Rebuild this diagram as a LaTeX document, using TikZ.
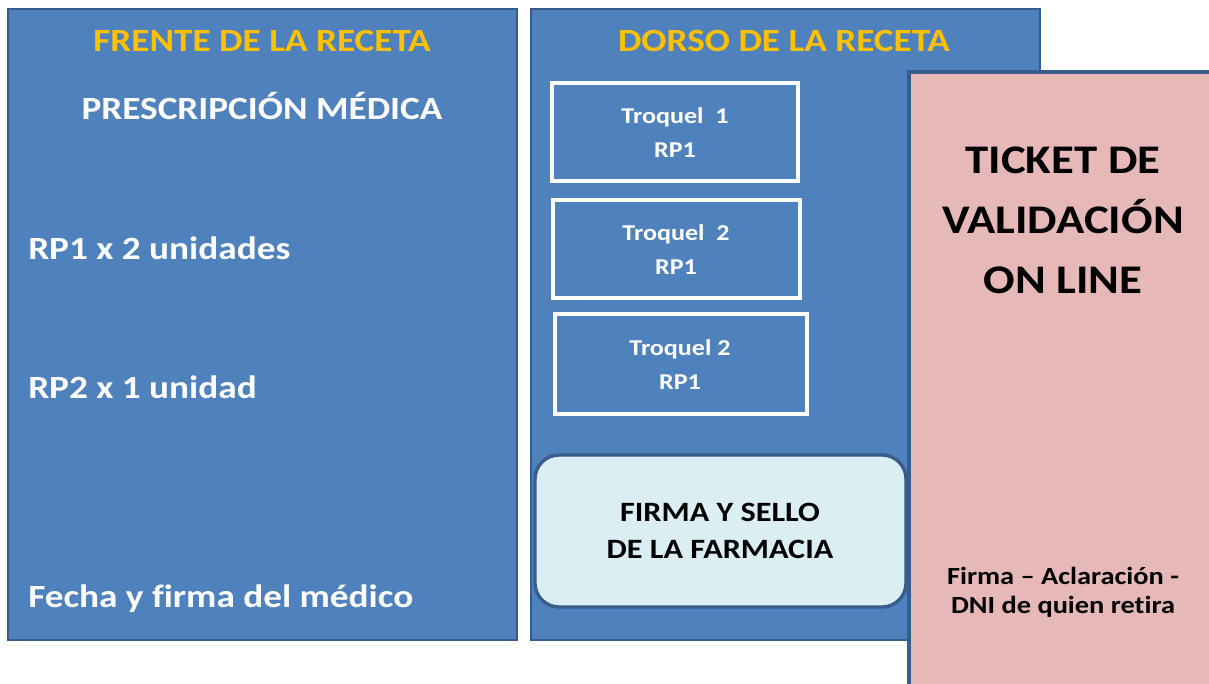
\documentclass[tikz,border=0pt]{standalone}
\usepackage{fontspec}
\setmainfont{Carlito}[FakeStretch=1.15,Ligatures=NoCommon]
\definecolor{panelblue}{HTML}{4F81BD}
\definecolor{edgeblue}{HTML}{385D8A}
\definecolor{titlegold}{HTML}{FFC000}
\definecolor{ticketpink}{HTML}{E6B9B8}
\definecolor{stampblue}{HTML}{DBEEF4}
\tikzset{
  panel/.style={fill=panelblue,draw=edgeblue,line width=2pt},
  troquelbox/.style={draw=white,line width=2.5pt},
  stampbox/.style={fill=stampblue,draw=edgeblue,line width=2.5pt,rounded corners=18pt},
  ticketbox/.style={fill=ticketpink,draw=edgeblue,line width=2.5pt},
  title/.style={text=titlegold,font=\bfseries\fontsize{24.3}{28}\selectfont,anchor=base,inner sep=0pt},
  entry/.style={text=white,font=\bfseries\fontsize{24.3}{28}\selectfont,anchor=base west,inner sep=0pt},
  troqueltext/.style={text=white,font=\bfseries\fontsize{17}{25.5}\selectfont,align=center,inner sep=0pt},
  stamptext/.style={text=black,font=\bfseries\fontsize{21}{27.75}\selectfont,align=center,inner sep=0pt},
  tickettext/.style={text=black,font=\bfseries\fontsize{30.5}{45}\selectfont,align=center,inner sep=0pt},
  signtext/.style={text=black,font=\bfseries\fontsize{18.5}{22}\selectfont,align=center,inner sep=0pt}
}
\begin{document}
\begin{tikzpicture}[x=0.75pt,y=-0.75pt]
\useasboundingbox (0,0) rectangle (1209,684);
\filldraw[panel] (8,9) rectangle (517,640);
\filldraw[panel] (531,9) rectangle (1040,640);
\draw[troquelbox] (552,83) rectangle (798,181);
\draw[troquelbox] (553,200) rectangle (800,298);
\draw[troquelbox] (555,314) rectangle (807,414);
\filldraw[stampbox] (535,455) rectangle (906,607);
\filldraw[ticketbox] (909,72) rectangle (1240,720);
\node[title] (frente) at (262,52) {FRENTE DE LA RECETA};
\node[title,text=white] (prescripcion) at (262,120) {PRESCRIPCIÓN MÉDICA};
\node[entry] (rp1) at (28,259) {RP1 x 2 unidades};
\node[entry] (rp2) at (28,398) {RP2 x 1 unidad};
\node[entry] (fecha) at (28,607) {Fecha y firma del médico};
\node[title] (dorso) at (784,52) {DORSO DE LA RECETA};
\node[troqueltext] (troquel1) at (675,133) {Troquel\ \ 1\\RP1};
\node[troqueltext] (troquel2) at (676,250) {Troquel\ \ 2\\RP1};
\node[troqueltext] (troquel3) at (680,365) {Troquel 2\\RP1};
\node[stamptext] (sello) at (720,531) {FIRMA Y SELLO\\DE LA FARMACIA};
\node[tickettext] (ticket) at (1063,220) {TICKET DE\\VALIDACIÓN\\ON LINE};
\node[signtext] (retira) at (1063,592) {Firma – Aclaración -\\DNI de quien retira};
\end{tikzpicture}
\end{document}
